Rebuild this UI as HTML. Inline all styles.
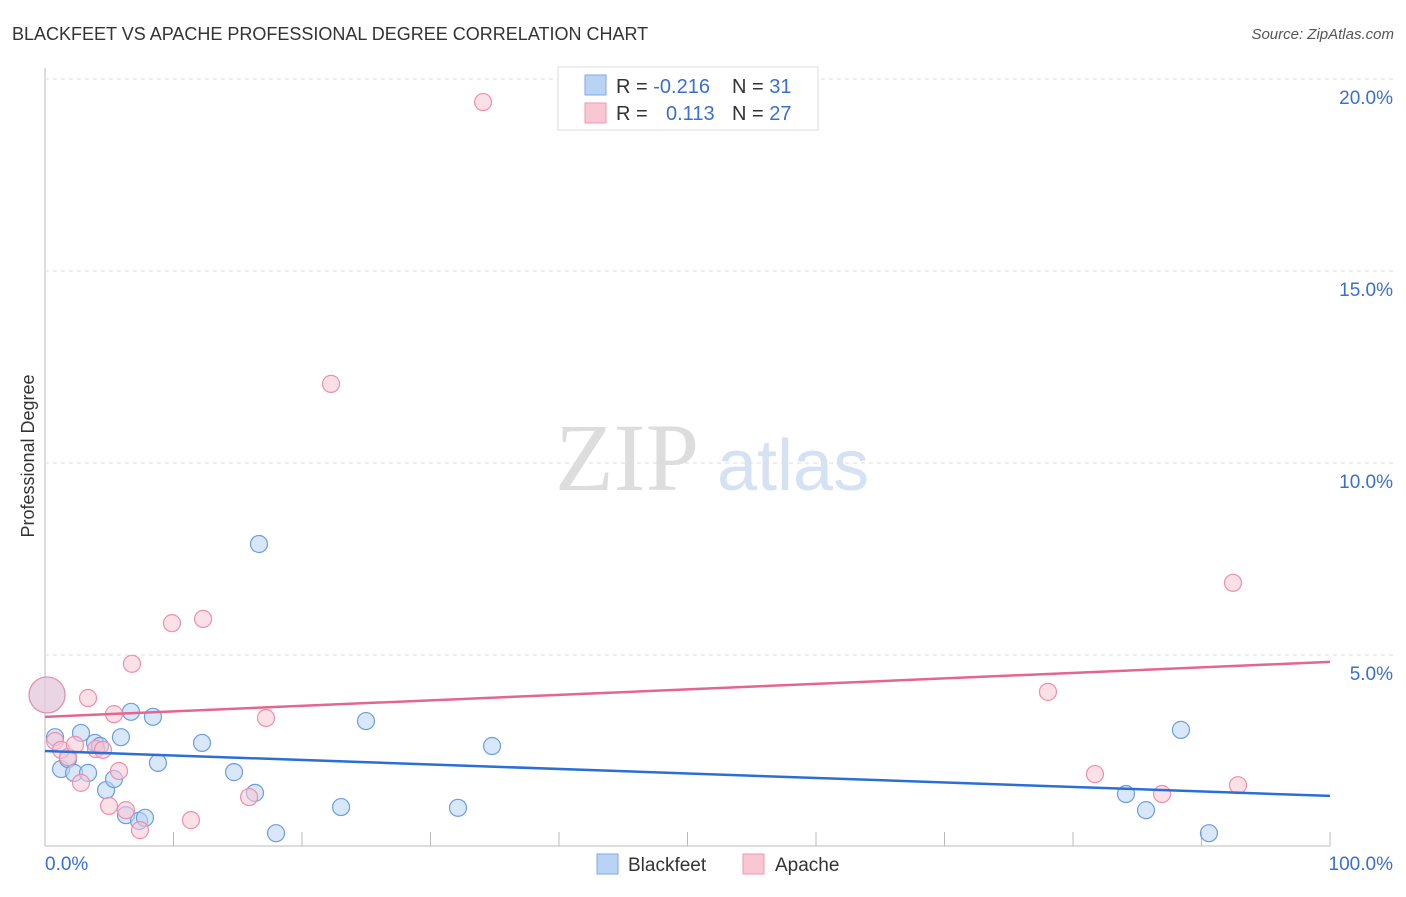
<!DOCTYPE html>
<html><head><meta charset="utf-8"><style>
body{margin:0;background:#fff;font-family:"Liberation Sans",sans-serif;}
</style></head><body>
<svg id="c" width="1406" height="892" xmlns="http://www.w3.org/2000/svg">
<text x="12" y="40" font-size="18" fill="#333">BLACKFEET VS APACHE PROFESSIONAL DEGREE CORRELATION CHART</text>
<text x="1394" y="39" font-size="15" fill="#555" font-style="italic" text-anchor="end">Source: ZipAtlas.com</text>
<text x="34" y="456" font-size="18" fill="#333" transform="rotate(-90 34 456)" text-anchor="middle">Professional Degree</text>
<text x="555" y="490" font-size="96" fill="#ddd" font-family="Liberation Serif,serif">ZIP</text>
<text x="717" y="490" font-size="72" fill="#d4e2f4">atlas</text>
<g id="grid"></g><g id="pts"></g><g id="lines"></g>
<g>
<rect x="558" y="67" width="260" height="63" fill="#fff" stroke="#ddd"/>
<rect x="585" y="75" width="21" height="20" fill="#b8d3f4" stroke="#7ea8e0"/>
<rect x="585" y="103" width="21" height="20" fill="#f9c6d3" stroke="#ee9ab0"/>
<text x="616" y="93" font-size="20" fill="#333">R = <tspan fill="#3a6fd0">-0.216</tspan></text>
<text x="732" y="93" font-size="20" fill="#333">N = <tspan fill="#3a6fd0"> 31</tspan></text>
<text x="616" y="120" font-size="20" fill="#333">R = <tspan fill="#3a6fd0" x="666">0.113</tspan></text>
<text x="732" y="120" font-size="20" fill="#333">N = <tspan fill="#3a6fd0">27</tspan></text>
</g>
<g>
<rect x="597" y="854" width="21" height="20" fill="#b8d3f4" stroke="#7ea8e0"/>
<text x="628" y="871" font-size="19" fill="#333">Blackfeet</text>
<rect x="743" y="854" width="21" height="20" fill="#f9c6d3" stroke="#ee9ab0"/>
<text x="775" y="871" font-size="19" fill="#333">Apache</text>
</g>
</svg>
<script>
const xTicks=[0,100];
const yTicks=[5,10,15,20];
const blackX=[0.16,0.78,1.25,1.79,2.26,2.80,3.89,4.28,3.35,4.75,5.37,5.91,6.30,6.69,7.32,7.78,8.40,8.79,12.22,14.71,16.34,16.65,17.98,23.04,24.98,32.14,34.79,84.12,85.68,88.40,90.58];
const blackY=[3.96,2.86,2.03,2.29,1.93,2.97,2.71,2.63,1.93,1.48,1.77,2.86,0.83,3.52,0.68,0.76,3.39,2.19,2.71,1.95,1.41,7.89,0.36,1.04,3.28,1.02,2.63,1.38,0.96,3.05,0.36];
const apX=[0.16,0.78,1.25,1.79,2.33,2.80,3.97,4.51,4.98,5.37,5.76,6.30,6.77,7.39,9.88,11.36,12.30,15.88,17.20,22.26,34.09,78.05,81.71,86.93,92.45,92.84,3.35];
const apY=[3.96,2.76,2.53,2.34,2.66,1.67,2.55,2.53,1.07,3.46,1.98,0.96,4.77,0.44,5.83,0.70,5.94,1.30,3.36,12.06,19.40,4.04,1.90,1.38,6.88,1.61,3.88];
const blackTrend=[2.50,1.33];
const apTrend=[3.39,4.82];
const X=v=>45+v*12.85, Y=v=>847-v*38.4;
const NS="http://www.w3.org/2000/svg";
function mk(t,a,p){const e=document.createElementNS(NS,t);for(const k in a)e.setAttribute(k,a[k]);p.appendChild(e);return e;}
const g=document.getElementById('grid');
let ax=mk('line',{x1:45,y1:68,x2:45,y2:846,stroke:'#bbb'},g);


let bx=mk('line',{x1:45,y1:846,x2:1330,y2:846,stroke:'#bbb'},g);


for(let i=1;i<=10;i++){let t=mk('line',{x1:X(i*10),y1:832,x2:X(i*10),y2:846,stroke:'#bbb'},g);

}
yTicks.forEach(v=>{let l=mk('line',{x1:45,y1:Y(v),x2:1394,y2:Y(v),stroke:'#ddd','stroke-dasharray':'4 4'},g);


let t=mk('text',{x:1393,y:Y(v)+25,'font-size':19,fill:'#3a6fd0','text-anchor':'end'},g);t.textContent=v.toFixed(1)+'%';

});
xTicks.forEach(v=>{let t=mk('text',{x:v==0?45:1393,y:870,'font-size':19,fill:'#3a6fd0','text-anchor':v==0?'start':'end'},g);t.textContent=v.toFixed(1)+'%';

});
const p=document.getElementById('pts');
function pts(xs,ys,f,s,name){xs.forEach((x,i)=>{let r=i==0?18:8.5;let c=mk('circle',{cx:X(x),cy:Y(ys[i]),r:r,fill:f,'fill-opacity':0.55,stroke:s,'stroke-width':1.2},p);

});}
pts(blackX,blackY,'#b8d3f4','#6b9ee0','blackfeet-point');
pts(apX,apY,'#f9c6d3','#ee8fab','apache-point');
const L=document.getElementById('lines');
let a=mk('line',{x1:X(0),y1:Y(blackTrend[0]),x2:X(100),y2:Y(blackTrend[1]),stroke:'#2b6fd6','stroke-width':2.5},L);


let b=mk('line',{x1:X(0),y1:Y(apTrend[0]),x2:X(100),y2:Y(apTrend[1]),stroke:'#e4668f','stroke-width':2.5},L);


</script>
</body></html>
